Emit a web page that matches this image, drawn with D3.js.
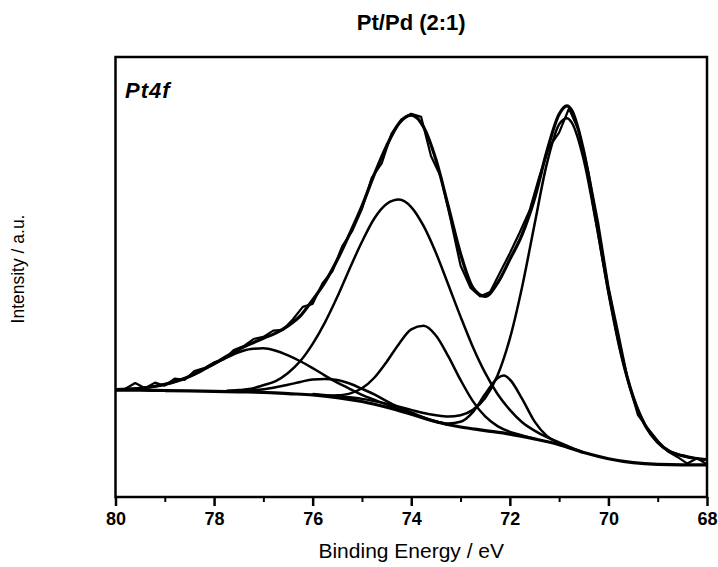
<!DOCTYPE html>
<html>
<head>
<meta charset="utf-8"/>
<title>Pt4f XPS</title>
<style>
  body { margin: 0; background: #fff; }
  text { font-family: "Liberation Sans", Arial, sans-serif; fill: #000; }
  .curve { fill: none; stroke: #000; stroke-linejoin: round; }
</style>
</head>
<body>
<div id="chart"></div>
<script src="https://d3js.org/d3.v7.min.js"></script>
<script>
// binding energy ticks
var majorTicks = [80, 78, 76, 74, 72, 70, 68];
var minorTicks = [79, 77, 75, 73, 71, 69];

// Shirley background [eV, intensity]
var background = [[80,24.3],[79.5,24.3],[79,24.2],[78.5,24.1],[78,24.0],[77.5,23.9],[77,23.8],[76.5,23.5],[76,23.2],[75.5,22.6],[75,21.7],[74.5,20.4],[74,18.8],[73.5,17.1],[73,15.9],[72.5,15.1],[72,14.3],[71.5,13.2],[71,11.9],[70.5,10.1],[70,8.7],[69.5,7.8],[69,7.4],[68.5,7.3],[68,7.3]];

// fitted components (on top of background)
var peakA = [[80,24.4],[79.75,24.5],[79.5,24.7],[79.25,25.05],[79,25.6],[78.75,26.35],[78.5,27.4],[78.25,28.75],[78,30.2],[77.75,31.65],[77.5,32.9],[77.25,33.65],[77,33.8],[76.75,33.25],[76.5,32.2],[76.25,30.85],[76,29.3],[75.75,27.6],[75.5,26.0],[75.25,24.6],[75,23.2],[74.75,22.1],[74.5,21.0],[74.25,19.9],[74,19.0],[73.75,18.0],[73.5,17.1]];
var peakB = [[77.75,24.05],[77.5,24.1],[77.25,24.25],[77,24.5],[76.75,24.95],[76.5,25.5],[76.25,26.15],[76,26.7],[75.75,26.8],[75.5,26.6],[75.25,25.8],[75,24.6],[74.75,23.3],[74.5,21.8],[74.25,20.4],[74,19.2],[73.75,18.1],[73.5,17.2],[73.25,16.4]];
var peakC = [[77.75,24.15],[77.5,24.3],[77.25,24.6],[77,25.4],[76.75,26.35],[76.5,28.2],[76.25,30.9],[76,34.8],[75.75,39.7],[75.5,45.5],[75.25,51.9],[75,58.0],[74.75,63.3],[74.5,66.6],[74.25,67.6],[74,65.9],[73.75,61.6],[73.5,55.5],[73.25,48.3],[73,41.0],[72.75,34.1],[72.5,28.2],[72.25,23.4],[72,19.8],[71.75,17.0],[71.5,15.1],[71.25,13.6],[71,12.4],[70.75,11.2],[70.5,10.1]];
var peakD = [[75.75,23.0],[75.5,23.1],[75.25,23.5],[75,24.7],[74.75,27.1],[74.5,30.7],[74.25,34.8],[74,38.1],[73.75,38.9],[73.5,36.7],[73.25,32.0],[73,26.6],[72.75,21.8],[72.5,18.3],[72.25,16.1],[72,14.8],[71.75,14.0],[71.5,13.2]];
var peakE = [[73.5,17.1],[73.25,16.7],[73,17.1],[72.75,19.3],[72.5,23.4],[72.25,27.0],[72.12,27.6],[72,26.7],[71.75,22.3],[71.5,17.2],[71.25,13.9],[71,12.2],[70.75,11.0]];
var peakF = [[76,23.4],[75.5,22.9],[75,22.3],[74.5,21.2],[74,19.8],[73.75,19.1],[73.5,18.6],[73.25,18.3],[73,18.6],[72.75,19.8],[72.5,22.5],[72.25,27.6],[72,36.0],[71.75,47.8],[71.5,61.9],[71.25,75.7],[71,84.7],[70.84,86.1],[70.75,85.2],[70.5,76.6],[70.25,62.3],[70,46.7],[69.75,33.0],[69.5,22.8],[69.25,16.2],[69,12.4],[68.75,10.3],[68.5,9.4],[68.25,8.8],[68,8.5]];

// fit envelope
var envelope = [[80,24.4],[79.75,24.5],[79.5,24.7],[79.25,25.05],[79,25.6],[78.75,26.35],[78.5,27.4],[78.25,28.75],[78,30.3],[77.75,31.95],[77.5,33.5],[77.25,34.85],[77,36.1],[76.75,37.25],[76.5,38.9],[76.25,41.15],[76,44.8],[75.75,48.8],[75.5,53.9],[75.25,59.8],[75,66.1],[74.75,73.3],[74.5,79.8],[74.25,84.9],[74,86.8],[73.75,84.1],[73.5,76.7],[73.25,66.1],[73,55.3],[72.75,47.6],[72.5,45.6],[72.25,48.6],[72,54.0],[71.75,59.7],[71.5,67.8],[71.25,78.5],[71,87.0],[70.84,88.9],[70.75,88.0],[70.5,78.5],[70.25,63.0],[70,46.9],[69.75,33.0],[69.5,22.8],[69.25,16.2],[69,12.4],[68.75,10.3],[68.5,9.4],[68.25,8.8],[68,8.5]];

// measured spectrum
var measured = [[80,24.4],[79.8,24.6],[79.6,25.9],[79.4,24.7],[79.2,26.0],[79,25.3],[78.8,26.9],[78.6,26.6],[78.4,28.6],[78.2,29.3],[78,30.6],[77.8,31.3],[77.6,33.4],[77.4,34.3],[77.2,35.9],[77,36.4],[76.8,37.8],[76.6,38.0],[76.4,40.4],[76.2,43.2],[76,43.9],[75.8,48.6],[75.6,51.3],[75.4,57.0],[75.2,60.4],[75,65.5],[74.8,72.6],[74.6,75.8],[74.4,82.6],[74.2,85.8],[74,87.1],[73.8,86.4],[73.6,77.5],[73.4,72.8],[73.2,63.0],[73,52.6],[72.8,47.6],[72.6,45.6],[72.4,46.6],[72.2,51.0],[72,55.4],[71.8,60.1],[71.6,65.1],[71.4,72.9],[71.2,79.6],[71,82.8],[70.8,88.3],[70.6,83.2],[70.4,73.5],[70.2,61.8],[70,47.8],[69.8,37.2],[69.6,26.3],[69.4,18.6],[69.2,15.6],[69,12.8],[68.8,10.4],[68.6,9.1],[68.4,7.6],[68.2,8.8],[68,7.4]];

var svg_dx = 718, svg_dy = 567;
var plot = {left: 115.5, right: 707, top: 57, bottom: 497};

var x = d3.scaleLinear().domain([80, 68]).range([plot.left, plot.right]);
var y = d3.scaleLinear().domain([0, 100]).range([plot.bottom, plot.top]);

var svg = d3.select("#chart").append("svg")
    .attr("width", svg_dx)
    .attr("height", svg_dy);

var smooth = d3.line()
    .x(d => x(d[0]))
    .y(d => y(d[1]))
    .curve(d3.curveMonotoneX);

var raw = d3.line()
    .x(d => x(d[0]))
    .y(d => y(d[1]));

var curves = svg.append("g");

[peakA, peakB, peakC, peakD, peakE, peakF].forEach(function (p) {
    curves.append("path")
        .attr("class", "curve")
        .attr("stroke-width", 2.5)
        .attr("d", smooth(p));
});

curves.append("path")
    .attr("class", "curve")
    .attr("stroke-width", 3.2)
    .attr("d", smooth(background));

curves.append("path")
    .attr("class", "curve")
    .attr("stroke-width", 2.2)
    .attr("d", raw(measured));

curves.append("path")
    .attr("class", "curve")
    .attr("stroke-width", 3.2)
    .attr("d", smooth(envelope));

// frame
svg.append("rect")
    .attr("x", plot.left)
    .attr("y", plot.top)
    .attr("width", plot.right - plot.left)
    .attr("height", plot.bottom - plot.top)
    .attr("fill", "none")
    .attr("stroke", "#000")
    .attr("stroke-width", 2.5);

// x axis
var xAxis = svg.append("g")
    .attr("transform", "translate(0," + plot.bottom + ")")
    .call(d3.axisBottom(x).tickValues(majorTicks).tickSize(9).tickSizeOuter(0).tickPadding(6).tickFormat(d3.format("d")));
xAxis.select(".domain").remove();
xAxis.selectAll("line").attr("stroke", "#000").attr("stroke-width", 2.5);
xAxis.selectAll("text")
    .style("font-family", '"Liberation Sans", Arial, sans-serif')
    .style("font-size", "18px")
    .style("font-weight", "bold")
    .attr("fill", "#000");

var xMinor = svg.append("g")
    .attr("transform", "translate(0," + plot.bottom + ")")
    .call(d3.axisBottom(x).tickValues(minorTicks).tickSize(5).tickSizeOuter(0).tickFormat(""));
xMinor.select(".domain").remove();
xMinor.selectAll("line").attr("stroke", "#000").attr("stroke-width", 2);

// labels
svg.append("text")
    .attr("x", (plot.left + plot.right) / 2)
    .attr("y", 558)
    .attr("text-anchor", "middle")
    .style("font-size", "21px")
    .text("Binding Energy / eV");

svg.append("text")
    .attr("transform", "translate(24,269) rotate(-90)")
    .attr("text-anchor", "middle")
    .style("font-size", "17.5px")
    .text("Intensity / a.u.");

svg.append("text")
    .attr("x", (plot.left + plot.right) / 2)
    .attr("y", 30)
    .attr("text-anchor", "middle")
    .style("font-size", "22px")
    .style("font-weight", "bold")
    .text("Pt/Pd (2:1)");

svg.append("text")
    .attr("x", 125)
    .attr("y", 98)
    .style("font-size", "22px")
    .style("font-weight", "bold")
    .style("font-style", "italic")
    .style("letter-spacing", "1px")
    .text("Pt4f");
</script>
</body>
</html>
